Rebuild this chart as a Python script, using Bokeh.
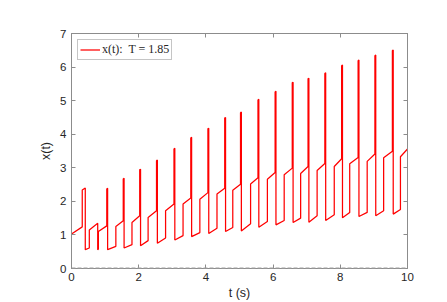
from bokeh.plotting import figure
from bokeh.models import Span, LinearAxis, FixedTicker, CustomJSTickFormatter
from bokeh.embed import file_html
from bokeh.resources import INLINE

# ---- data (piecewise-linear signal x(t)) ----
pre_t = [0.0, 0.32, 0.32, 0.41, 0.41, 0.53, 0.53, 0.78, 0.78, 0.80, 0.80]
pre_x = [1.03, 1.24, 2.34, 2.40, 0.56, 0.61, 1.15, 1.35, 0.56, 0.58, 1.10]

spike_t = [1.05, 1.54, 2.03, 2.53, 3.05, 3.55, 4.06, 4.56, 5.03, 5.55,
           6.06, 6.57, 7.04, 7.54, 8.04, 8.53, 9.03, 9.55]
spike_top = [2.37, 2.67, 2.94, 3.21, 3.56, 3.89, 4.16, 4.48, 4.64, 5.02,
             5.26, 5.53, 5.65, 5.81, 6.04, 6.19, 6.34, 6.49]
pre_spike = [1.27, 1.42, 1.57, 1.72, 1.92, 2.10, 2.26, 2.39, 2.51, 2.70,
             2.86, 2.99, 3.04, 3.13, 3.27, 3.31, 3.41, 3.49]
low_start = [0.56, 0.61, 0.68, 0.75, 0.85, 0.95, 1.04, 1.10, 1.12, 1.23,
             1.30, 1.37, 1.38, 1.43, 1.51, 1.55, 1.57, 1.62]
jump_t = [1.32, 1.80, 2.28, 2.80, 3.32, 3.82, 4.33, 4.80, 5.33, 5.83,
          6.33, 6.82, 7.31, 7.82, 8.28, 8.80, 9.29, 9.79]
low_end = [0.66, 0.71, 0.83, 0.91, 0.98, 1.07, 1.20, 1.22, 1.33, 1.40,
           1.43, 1.50, 1.57, 1.60, 1.67, 1.67, 1.72, 1.76]
mid_start = [1.25, 1.37, 1.52, 1.72, 1.92, 2.06, 2.22, 2.33, 2.52, 2.66,
             2.79, 2.83, 2.92, 3.04, 3.12, 3.19, 3.30, 3.33]
end_t = 10.0
end_x = 3.56

x_ticks = [0, 2, 4, 6, 8, 10]
y_ticks = [0, 1, 2, 3, 4, 5, 6, 7]
legend_text = "x(t):  T = 1.85"

# ---- build path ----
spike_w = 0.025
ts = list(pre_t)
xs = list(pre_x)
for k in range(len(spike_t)):
    s = spike_t[k]
    ts += [s, s, s + spike_w, s + spike_w, jump_t[k], jump_t[k]]
    xs += [pre_spike[k], spike_top[k], spike_top[k] + 0.02,
           low_start[k], low_end[k], mid_start[k]]
ts.append(end_t)
xs.append(end_x)

GRAY = "#8c8c8c"
TXT = "#262626"

p = figure(width=447, height=302, x_range=(0, 10), y_range=(0, 7),
           output_backend="svg", toolbar_location=None,
           min_border_left=71, min_border_right=40,
           min_border_top=33, min_border_bottom=34)
p.background_fill_color = "white"
p.border_fill_color = "white"
p.grid.visible = False
p.outline_line_color = GRAY
p.outline_line_width = 1

p.line(ts, xs, line_color="#ff0000", line_width=1.25, legend_label=legend_text)

p.add_layout(Span(location=0, dimension="width", line_color="#a0a0a0",
                  line_dash="4 2", line_width=2))

for ax, ticks in ((p.xaxis[0], x_ticks), (p.yaxis[0], y_ticks)):
    ax.ticker = FixedTicker(ticks=ticks)
    ax.axis_line_color = GRAY
    ax.major_tick_line_color = GRAY
    ax.major_tick_in = 4
    ax.major_tick_out = 0
    ax.minor_tick_line_color = None
    ax.major_label_text_font = "Liberation Sans"
    ax.major_label_text_font_size = "11.5px"
    ax.major_label_text_color = TXT
    ax.axis_label_text_font = "Liberation Sans"
    ax.axis_label_text_font_size = "12.5px"
    ax.axis_label_text_font_style = "normal"
    ax.axis_label_text_color = TXT

p.xaxis.axis_label = "t (s)"
p.yaxis.axis_label = "x(t)"
p.xaxis.major_label_standoff = 4
p.xaxis.axis_label_standoff = 2
p.yaxis.major_label_standoff = 5
p.yaxis.axis_label_standoff = 4

for loc, ticks in (("right", y_ticks), ("above", x_ticks)):
    ax = LinearAxis(ticker=FixedTicker(ticks=ticks),
                    formatter=CustomJSTickFormatter(code="return ''"))
    ax.axis_line_color = GRAY
    ax.major_tick_line_color = GRAY
    ax.major_tick_in = 4
    ax.major_tick_out = 0
    ax.minor_tick_line_color = None
    ax.major_label_standoff = 0
    p.add_layout(ax, loc)

lg = p.legend[0]
lg.location = "top_left"
lg.margin = 6
lg.padding = 2
lg.spacing = 0
lg.glyph_width = 20
lg.glyph_height = 13
lg.label_height = 13
lg.label_standoff = 2
lg.label_text_font = "Liberation Serif"
lg.label_text_font_size = "12px"
lg.label_text_color = TXT
lg.border_line_color = GRAY
lg.border_line_width = 1
lg.background_fill_alpha = 1.0

open("out.html", "w").write(file_html(p, INLINE))
